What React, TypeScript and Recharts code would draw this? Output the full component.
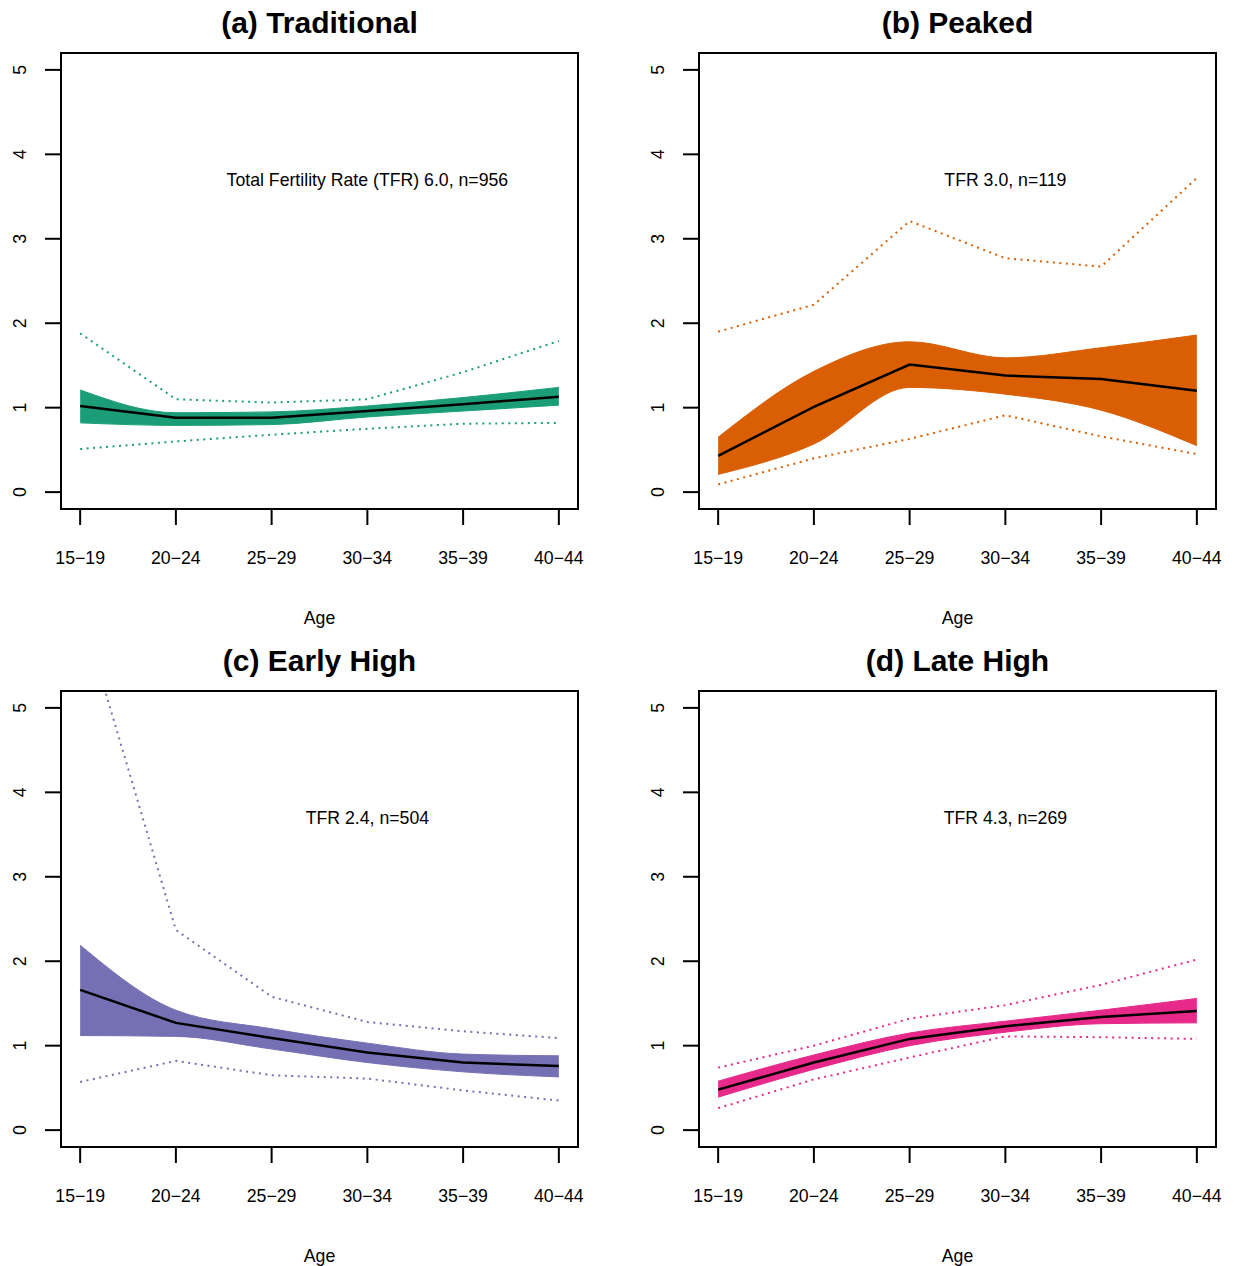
import { ComposedChart, Area, Line, XAxis, YAxis, ReferenceArea, ReferenceDot } from "recharts";

const ages = ["15−19", "20−24", "25−29", "30−34", "35−39", "40−44"];
const yTicks = [0, 1, 2, 3, 4, 5];

// (a) Traditional
const tradMean = [1.02, 0.88, 0.88, 0.96, 1.04, 1.13];
const tradBandLo = [0.82, 0.79, 0.8, 0.89, 0.96, 1.03];
const tradBandHi = [1.21, 0.94, 0.95, 1.02, 1.12, 1.24];
const tradDotLo = [0.51, 0.6, 0.68, 0.75, 0.81, 0.82];
const tradDotHi = [1.88, 1.1, 1.06, 1.1, 1.42, 1.79];

// (b) Peaked
const peakMean = [0.43, 1.01, 1.51, 1.38, 1.34, 1.2];
const peakBandLo = [0.21, 0.57, 1.24, 1.16, 0.97, 0.55];
const peakBandHi = [0.65, 1.43, 1.78, 1.59, 1.71, 1.86];
const peakDotLo = [0.09, 0.4, 0.63, 0.91, 0.66, 0.45];
const peakDotHi = [1.9, 2.22, 3.21, 2.77, 2.67, 3.72];

// (c) Early High
const earlyMean = [1.66, 1.27, 1.09, 0.92, 0.8, 0.76];
const earlyBandLo = [1.12, 1.11, 0.96, 0.8, 0.69, 0.63];
const earlyBandHi = [2.19, 1.42, 1.2, 1.03, 0.9, 0.88];
const earlyDotLo = [0.57, 0.82, 0.65, 0.61, 0.47, 0.35];
const earlyDotHi = [6.2, 2.37, 1.58, 1.28, 1.17, 1.09];

// (d) Late High
const lateMean = [0.48, 0.8, 1.08, 1.23, 1.34, 1.41];
const lateBandLo = [0.39, 0.72, 1.0, 1.16, 1.26, 1.27];
const lateBandHi = [0.58, 0.89, 1.15, 1.29, 1.42, 1.56];
const lateDotLo = [0.26, 0.6, 0.86, 1.11, 1.1, 1.08];
const lateDotHi = [0.74, 1.0, 1.32, 1.48, 1.72, 2.02];

const FONT = "'Liberation Sans', Arial, Helvetica, sans-serif";
const SIZE = 638;
const FS = 17.7;

function YTick(props: any) {
  const { y, payload } = props;
  return (
    <text
      x={20}
      y={y}
      transform={`rotate(-90 20 ${y})`}
      textAnchor="middle"
      dominantBaseline="central"
      fontSize={FS}
      fill="#000"
      fontFamily={FONT}
    >
      {payload.value}
    </text>
  );
}

interface PanelProps {
  title: string;
  note: string;
  color: string;
  mean: number[];
  bandLo: number[];
  bandHi: number[];
  dotLo: number[];
  dotHi: number[];
  left: number;
  top: number;
}

function Panel({ title, note, color, mean, bandLo, bandHi, dotLo, dotHi, left, top }: PanelProps) {
  const rows = ages.map((_, i) => ({
    x: i + 1,
    mean: mean[i],
    band: [bandLo[i], bandHi[i]],
    dotLo: dotLo[i],
    dotHi: dotHi[i],
  }));

  return (
    <div style={{ position: "absolute", left, top, width: SIZE, height: SIZE }}>
      <div
        style={{
          position: "absolute",
          left: 0,
          width: 639,
          top: 8,
          textAlign: "center",
          fontSize: 30,
          lineHeight: "30px",
          fontWeight: "bold",
        }}
      >
        {title}
      </div>
      <ComposedChart
        width={SIZE}
        height={SIZE}
        data={rows}
        margin={{ top: 53, right: 60, bottom: 69, left: 16 }}
        style={{ fontFamily: FONT }}
      >
        <XAxis
          dataKey="x"
          type="number"
          domain={[0.8, 6.2]}
          ticks={[1, 2, 3, 4, 5, 6]}
          interval={0}
          allowDataOverflow
          tickFormatter={(v: number) => ages[v - 1]}
          tickSize={16}
          tickMargin={26}
          height={60}
          axisLine={false}
          tickLine={{ stroke: "#000", strokeWidth: 2 }}
          tick={{ fontSize: FS, fill: "#000" }}
        />
        <YAxis
          type="number"
          domain={[-0.2, 5.2]}
          ticks={yTicks}
          interval={0}
          allowDataOverflow
          width={45}
          tickSize={16}
          axisLine={false}
          tickLine={{ stroke: "#000", strokeWidth: 2 }}
          tick={YTick}
        />
        <Area
          dataKey="band"
          type="monotone"
          fill={color}
          fillOpacity={1}
          stroke={color}
          strokeWidth={1}
          dot={false}
          activeDot={false}
          isAnimationActive={false}
        />
        <Line
          dataKey="dotHi"
          type="linear"
          stroke={color}
          strokeWidth={2}
          strokeDasharray="2 4.5"
          dot={false}
          activeDot={false}
          isAnimationActive={false}
        />
        <Line
          dataKey="dotLo"
          type="linear"
          stroke={color}
          strokeWidth={2}
          strokeDasharray="2 4.5"
          dot={false}
          activeDot={false}
          isAnimationActive={false}
        />
        <Line
          dataKey="mean"
          type="linear"
          stroke="#000"
          strokeWidth={2.5}
          dot={false}
          activeDot={false}
          isAnimationActive={false}
        />
        <ReferenceDot
          x={4}
          y={3.7}
          r={0}
          fill="none"
          stroke="none"
          label={{ value: note, position: "center", fontSize: FS, fill: "#000" }}
        />
        <ReferenceArea
          x1={0.8}
          x2={6.2}
          y1={-0.2}
          y2={5.2}
          fill="none"
          fillOpacity={0}
          stroke="#000"
          strokeWidth={2}
          ifOverflow="visible"
        />
      </ComposedChart>
      <div
        style={{
          position: "absolute",
          left: 0,
          width: 639,
          top: 609,
          textAlign: "center",
          fontSize: FS,
          lineHeight: "18px",
        }}
      >
        Age
      </div>
    </div>
  );
}

export default function App() {
  return (
    <div
      style={{
        position: "absolute",
        left: 0,
        top: 0,
        width: 1238,
        height: 1266,
        overflow: "hidden",
        background: "#fff",
        fontFamily: FONT,
        color: "#000",
      }}
    >
      <Panel
        title="(a) Traditional"
        note="Total Fertility Rate (TFR) 6.0, n=956"
        color="#1B9E77"
        mean={tradMean}
        bandLo={tradBandLo}
        bandHi={tradBandHi}
        dotLo={tradDotLo}
        dotHi={tradDotHi}
        left={0}
        top={0}
      />
      <Panel
        title="(b) Peaked"
        note="TFR 3.0, n=119"
        color="#D95F02"
        mean={peakMean}
        bandLo={peakBandLo}
        bandHi={peakBandHi}
        dotLo={peakDotLo}
        dotHi={peakDotHi}
        left={638}
        top={0}
      />
      <Panel
        title="(c) Early High"
        note="TFR 2.4, n=504"
        color="#7570B3"
        mean={earlyMean}
        bandLo={earlyBandLo}
        bandHi={earlyBandHi}
        dotLo={earlyDotLo}
        dotHi={earlyDotHi}
        left={0}
        top={638}
      />
      <Panel
        title="(d) Late High"
        note="TFR 4.3, n=269"
        color="#E7298A"
        mean={lateMean}
        bandLo={lateBandLo}
        bandHi={lateBandHi}
        dotLo={lateDotLo}
        dotHi={lateDotHi}
        left={638}
        top={638}
      />
    </div>
  );
}
